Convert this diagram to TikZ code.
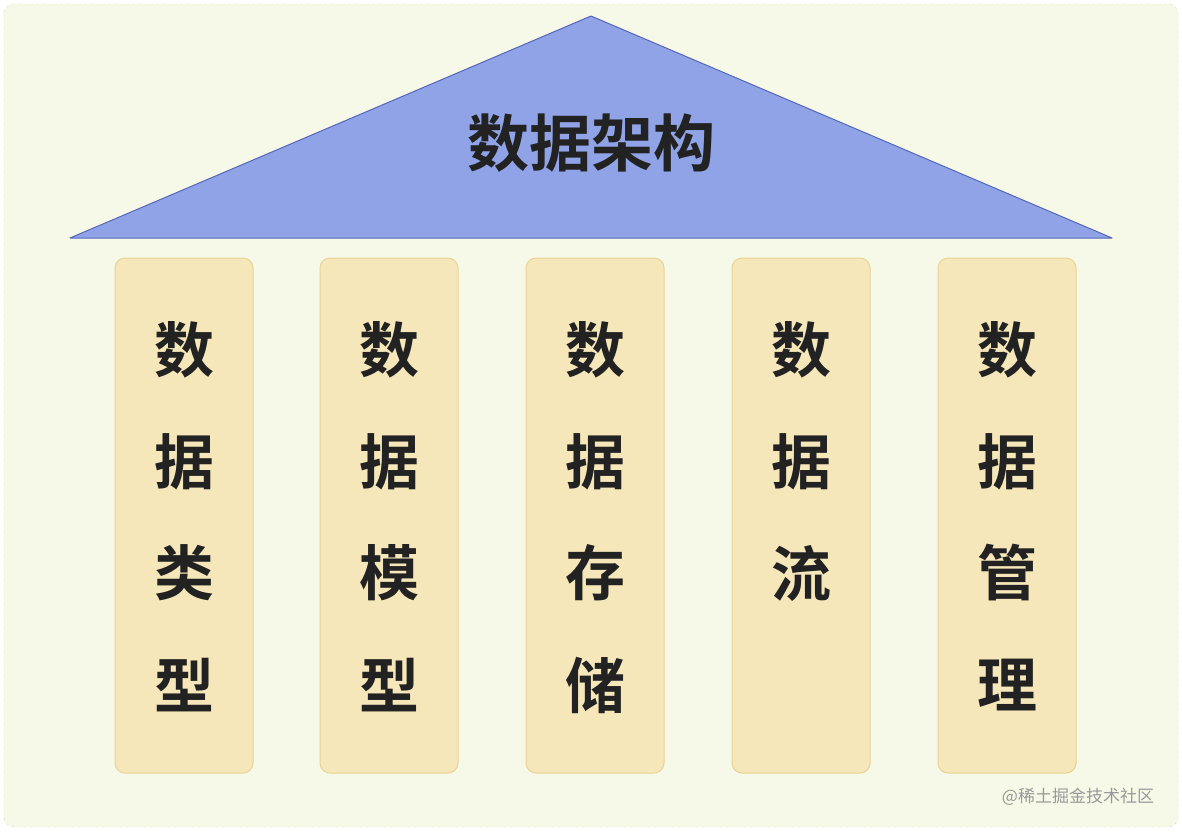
\documentclass[tikz,border=0pt]{standalone}
\usepackage{fontspec}
\newfontfamily\cjk{Noto Sans CJK SC}[BoldFont={Noto Sans CJK SC Bold}]
\definecolor{bgc}{HTML}{F6F9E7}
\definecolor{bgb}{HTML}{D6DDB0}
\definecolor{roof}{HTML}{8FA3E6}
\definecolor{roofb}{HTML}{5566BB}
\definecolor{pil}{HTML}{F5E7B9}
\definecolor{pilb}{HTML}{E8D494}
\definecolor{txt}{HTML}{222222}
\tikzset{pillar/.style={draw=pilb,fill=pil,rounded corners=10pt,line width=1pt,minimum width=138pt,minimum height=515pt,inner sep=0pt},
 ptext/.style={font=\cjk\bfseries\fontsize{60}{60}\selectfont,text=txt,inner sep=0pt}}
\begin{document}
\begin{tikzpicture}[x=1pt,y=-1pt]
\useasboundingbox (0,0) rectangle (1182,831);
\draw[bgb,dashed,fill=bgc,rounded corners=10pt] (4,4) rectangle (1178,827);
\coordinate (apex) at (591,16);
\coordinate (bl) at (70,238);
\coordinate (br) at (1112,238);
\draw[roofb,fill=roof,line width=1pt,line join=round] (apex) -- (br) -- (bl) -- cycle;
\node[font=\cjk\bfseries\fontsize{62}{62}\selectfont,text=txt] (title) at (591,143) {数据架构};
\foreach \i/\x/\a/\b/\c/\d in {1/184/数/据/类/型, 2/389/数/据/模/型, 3/595/数/据/存/储, 4/801/数/据/流/{}, 5/1007/数/据/管/理}{
  \node[pillar] (p\i) at (\x,515.5) {};
  \node[ptext] (a\i) at (\x,350) {\a};
  \node[ptext] (b\i) at (\x,462) {\b};
  \node[ptext] (c\i) at (\x,573) {\c};
  \node[ptext] (d\i) at (\x,685) {\d};
}
\node[font=\cjk\fontsize{17}{18}\selectfont,text=gray!80] (wm) at (1078,797) {@稀土掘金技术社区};
\end{tikzpicture}
\end{document}
